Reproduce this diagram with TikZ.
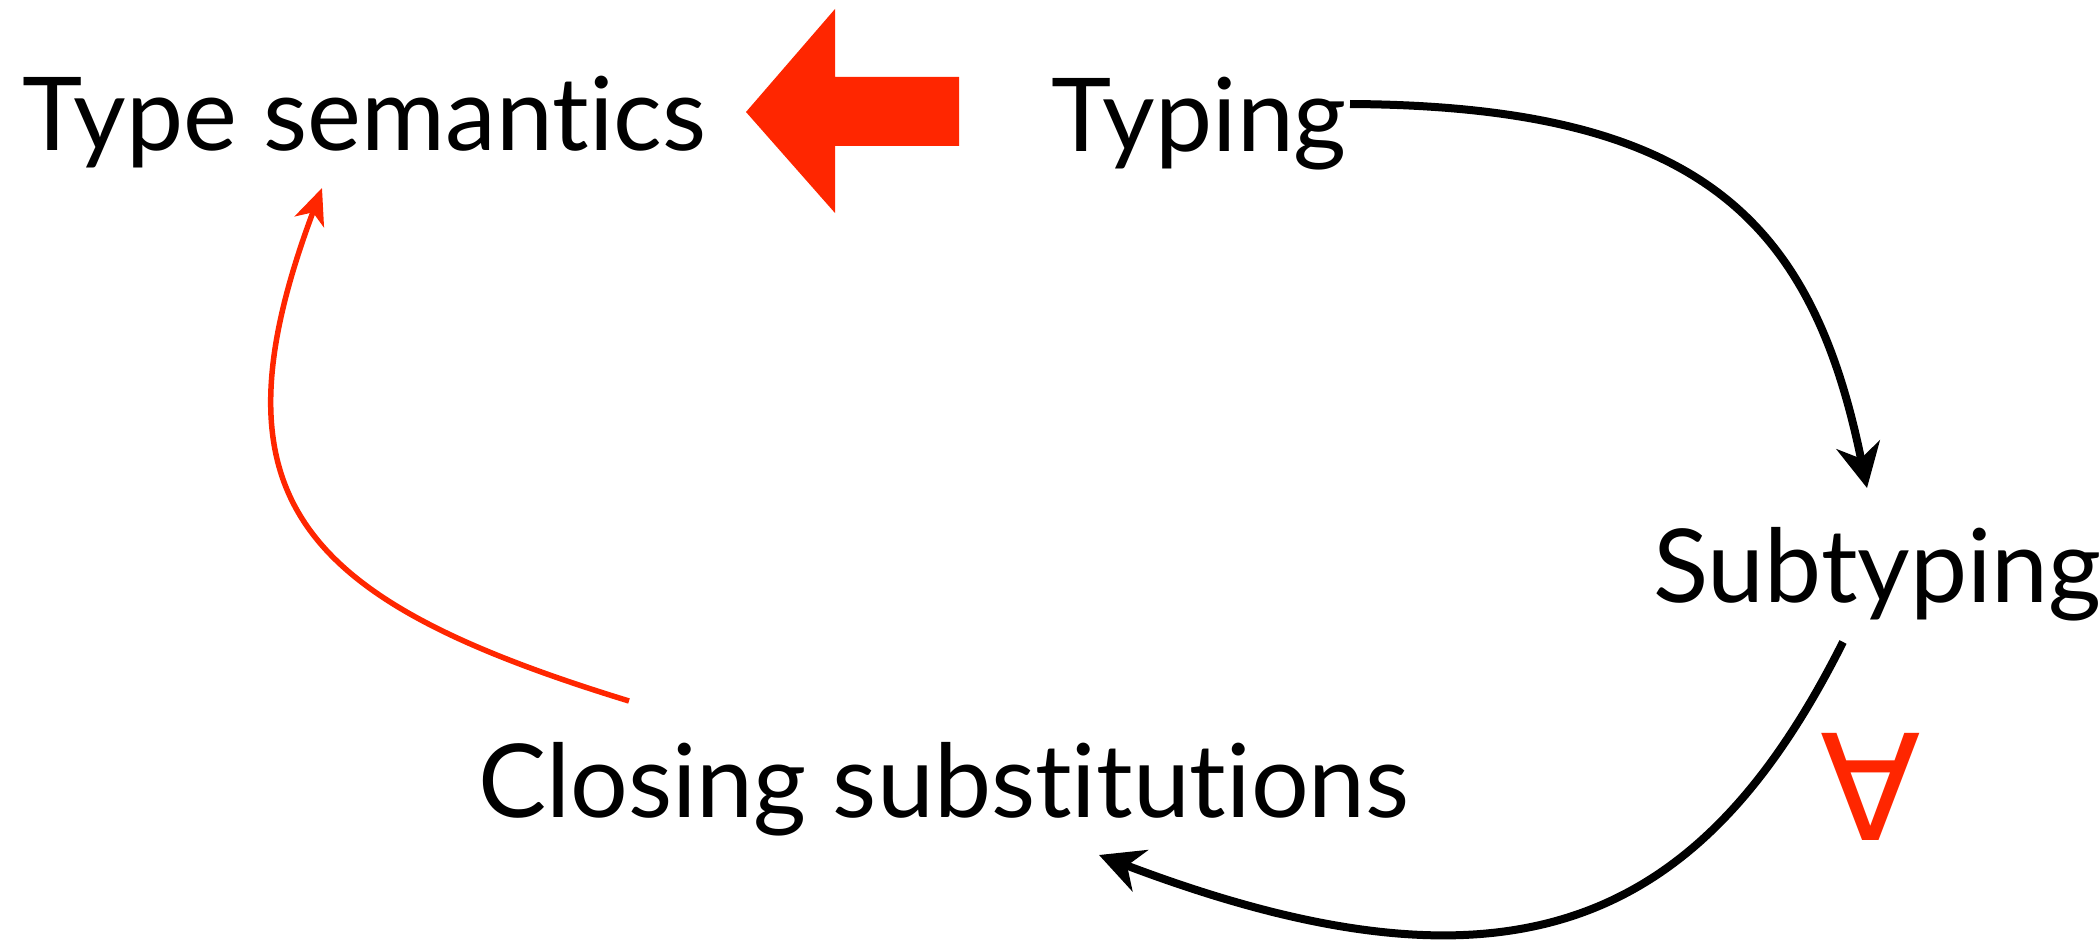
\documentclass[tikz,border=0pt]{standalone}
\usepackage{fontspec}
\setmainfont{Lato}[Ligatures={NoCommon}]
\newfontfamily\symfont{DejaVu Sans}
\usetikzlibrary{arrows.meta}
\definecolor{kred}{RGB}{255,38,0}
\tikzset{
  lbl/.style={inner sep=0pt, anchor=base west, font=\fontsize{102}{102}\selectfont},
  blackarrow/.style={line width=8pt, -{Stealth[length=44pt,width=44pt,inset=14pt]}},
  redarrow/.style={kred, line width=5.5pt, -{Stealth[length=36pt,width=31pt,inset=10pt]}},
  bigarrow/.style={fill=kred, draw=none}
}
\begin{document}
\begin{tikzpicture}[x=1pt,y=-1pt]
\useasboundingbox (0,0) rectangle (2099,947);
\node[lbl] (ts) at (22,150) {Type semantics};
\node[lbl] (ty) at (1051,151) {Typing};
\node[lbl] (sub) at (1653,602) {Subtyping};
\node[lbl] (cs) at (478,817) {Closing substitutions};
\node[inner sep=0pt, text=kred, font=\symfont\fontsize{147}{147}\selectfont] (fa) at (1871,787) {∀};
% big red block arrow
\fill[bigarrow] (746,112) -- (835,9) -- (835,77) -- (959,77) -- (959,146) -- (835,146) -- (835,213) -- cycle;
% connector end points
\coordinate (tyout) at (1350,104);
\coordinate (subin) at (1867,488);
\coordinate (subout) at (1843,642);
\coordinate (csin) at (1099,855);
\coordinate (csout) at (629,701);
\coordinate (tsin) at (322,188);
\draw[blackarrow] (tyout) .. controls (1700,106) and (1812,220) .. (subin);
\draw[blackarrow] (subout) .. controls (1701,925) and (1513,1012) .. (csin);
\draw[redarrow] (csout) .. controls (300,600) and (205,500) .. (tsin);
\end{tikzpicture}
\end{document}
